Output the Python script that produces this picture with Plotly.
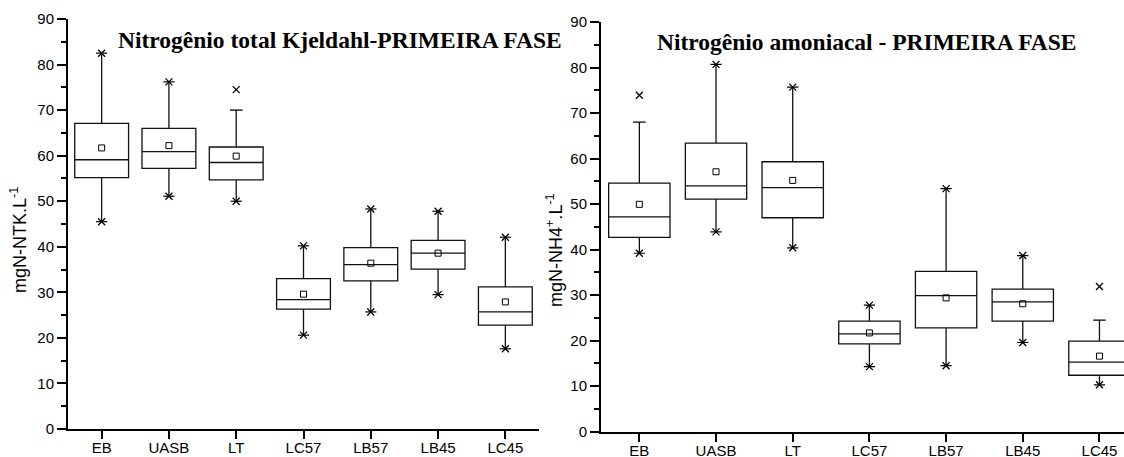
import plotly.graph_objects as go

categories = ["EB", "UASB", "LT", "LC57", "LB57", "LB45", "LC45"]

# Left panel: Nitrogênio total Kjeldahl (mgN-NTK/L)
ntk_low_whisker = [45.5, 51.1, 50.0, 20.6, 25.7, 29.5, 17.6]
ntk_q1 = [55.2, 57.2, 54.7, 26.3, 32.5, 35.1, 22.8]
ntk_median = [59.1, 60.9, 58.5, 28.4, 36.1, 38.6, 25.7]
ntk_q3 = [67.1, 66.0, 61.9, 33.0, 39.8, 41.4, 31.2]
ntk_up_whisker = [82.5, 76.2, 70.0, 40.2, 48.3, 47.8, 42.1]
ntk_mean = [61.7, 62.2, 59.9, 29.6, 36.4, 38.6, 27.9]
ntk_max = [82.5, 76.2, 74.5, 40.2, 48.3, 47.8, 42.1]
ntk_min = [45.5, 51.1, 50.0, 20.6, 25.7, 29.5, 17.6]

# Right panel: Nitrogênio amoniacal (mgN-NH4+/L)
nh4_low_whisker = [39.2, 43.9, 40.4, 14.3, 14.5, 19.6, 10.3]
nh4_q1 = [42.7, 51.1, 47.0, 19.3, 22.8, 24.3, 12.4]
nh4_median = [47.2, 54.0, 53.6, 21.5, 29.9, 28.5, 15.3]
nh4_q3 = [54.6, 63.4, 59.3, 24.3, 35.2, 31.3, 19.9]
nh4_up_whisker = [68.0, 80.7, 75.7, 27.8, 53.4, 38.7, 24.5]
nh4_mean = [49.95, 57.1, 55.2, 21.7, 29.4, 28.1, 16.6]
nh4_max = [73.9, 80.7, 75.7, 27.8, 53.4, 38.7, 31.9]
nh4_min = [39.2, 43.9, 40.4, 14.3, 14.5, 19.6, 10.3]

title_left = "Nitrogênio total Kjeldahl-PRIMEIRA FASE"
title_right = "Nitrogênio amoniacal - PRIMEIRA FASE"
ylabel_left = "mgN-NTK.L<sup>-1</sup>"
ylabel_right = "mgN-NH4<sup>+</sup>.L<sup>-1</sup>"

fig = go.Figure()


def add_panel(xa, ya, low, q1, med, q3, up, mean, mx, mn):
    fig.add_trace(go.Box(
        x=categories, q1=q1, median=med, q3=q3, lowerfence=low, upperfence=up,
        width=0.8, whiskerwidth=0, fillcolor="white", boxpoints=False,
        line=dict(color="#111111", width=1.3), xaxis=xa, yaxis=ya,
        hoverinfo="skip"))
    # mean markers
    fig.add_trace(go.Scatter(
        x=categories, y=mean, mode="markers", xaxis=xa, yaxis=ya,
        marker=dict(symbol="square-open", size=6, color="black",
                    line=dict(width=1, color="black"))))
    # whisker caps where max marker lies beyond the whisker
    cap_x = [c for c, u, m in zip(categories, up, mx) if m > u]
    cap_y = [u for u, m in zip(up, mx) if m > u]
    fig.add_trace(go.Scatter(
        x=cap_x, y=cap_y, mode="markers", xaxis=xa, yaxis=ya,
        marker=dict(symbol="line-ew-open", size=9, color="black",
                    line=dict(width=1.3, color="black"))))
    # x markers at max and min
    fig.add_trace(go.Scatter(
        x=categories + categories, y=mx + mn, mode="markers", xaxis=xa, yaxis=ya,
        marker=dict(symbol="x-thin-open", size=7, color="black",
                    line=dict(width=1.3, color="black"))))
    # horizontal dash where marker coincides with whisker end (asterisk look)
    dx = [c for c, u, m in zip(categories, up, mx) if m <= u] + categories
    dy = [m for u, m in zip(up, mx) if m <= u] + mn
    fig.add_trace(go.Scatter(
        x=dx, y=dy, mode="markers", xaxis=xa, yaxis=ya,
        marker=dict(symbol="line-ew-open", size=8, color="black",
                    line=dict(width=1.2, color="black"))))


add_panel("x", "y", ntk_low_whisker, ntk_q1, ntk_median, ntk_q3,
          ntk_up_whisker, ntk_mean, ntk_max, ntk_min)
add_panel("x2", "y2", nh4_low_whisker, nh4_q1, nh4_median, nh4_q3,
          nh4_up_whisker, nh4_mean, nh4_max, nh4_min)

W, H = 1124, 457
tickfont_y = dict(family="Liberation Sans", size=15, color="black")
tickfont_x = dict(family="Liberation Sans", size=15, color="black")

common_x = dict(type="category", showline=True, linewidth=2, linecolor="black",
                ticks="outside", ticklen=8, tickwidth=1.5, tickcolor="black",
                tickfont=tickfont_x, showgrid=False, zeroline=False,
                fixedrange=True, automargin=False, ticklabelstandoff=-4)
common_y = dict(range=[0, 90], dtick=10, showline=True, linewidth=2,
                linecolor="black", ticks="outside", ticklen=9, tickwidth=1.5,
                tickcolor="black", tickfont=tickfont_y, showgrid=False,
                zeroline=False, automargin=False,
                minor=dict(dtick=5, ticks="outside", ticklen=5, tickwidth=1.5,
                           tickcolor="black", showgrid=False))

fig.update_layout(
    width=W, height=H, margin=dict(l=0, r=0, t=0, b=0),
    paper_bgcolor="white", plot_bgcolor="white", showlegend=False,
    xaxis=dict(common_x, domain=[68 / W, 539 / W], range=[-0.5, 6.5], anchor="y"),
    yaxis=dict(common_y, domain=[28 / H, 438 / H], anchor="x"),
    xaxis2=dict(common_x, domain=[601 / W, 1.0], range=[-0.5, 6.32], anchor="y2"),
    yaxis2=dict(common_y, domain=[25.3 / H, 435 / H], anchor="x2"),
    annotations=[
        dict(text="<b>" + title_left + "</b>", x=339.5 / W, y=1 - 40 / H,
             xref="paper", yref="paper", showarrow=False,
             xanchor="center", yanchor="middle",
             font=dict(family="Liberation Serif", size=23.5, color="black")),
        dict(text="<b>" + title_right + "</b>", x=867 / W, y=1 - 42 / H,
             xref="paper", yref="paper", showarrow=False,
             xanchor="center", yanchor="middle",
             font=dict(family="Liberation Serif", size=23.5, color="black")),
        dict(text=ylabel_left, x=19 / W, y=1 - 240 / H, xref="paper", yref="paper",
             showarrow=False, textangle=-90, xanchor="center", yanchor="middle",
             font=dict(family="Liberation Sans", size=18, color="black")),
        dict(text=ylabel_right, x=555 / W, y=1 - 250 / H, xref="paper", yref="paper",
             showarrow=False, textangle=-90, xanchor="center", yanchor="middle",
             font=dict(family="Liberation Sans", size=18, color="black")),
    ],
)

fig.write_html("out.html")
